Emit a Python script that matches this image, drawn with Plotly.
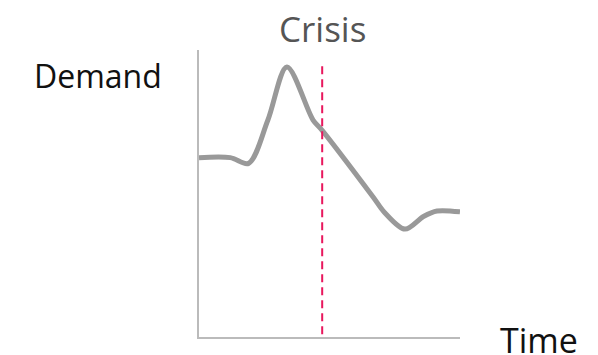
import plotly.graph_objects as go

# Data (arbitrary units)
time_vals = [0.0, 1.2, 1.9, 2.64, 3.37, 4.37, 4.71, 6.67, 7.1, 7.89, 8.6, 9.12, 10.0]
demand_vals = [6.25, 6.25, 6.05, 7.56, 9.41, 7.56, 7.21, 4.88, 4.35, 3.76, 4.2, 4.39, 4.36]
crisis_time = 4.72
crisis_span = [0.1, 9.5]

fig = go.Figure()
fig.add_trace(go.Scatter(
    x=time_vals, y=demand_vals, mode="lines",
    line=dict(color="#999999", width=5, shape="spline", smoothing=0.9),
    hoverinfo="skip",
))
fig.add_trace(go.Scatter(
    x=[crisis_time, crisis_time], y=crisis_span, mode="lines",
    line=dict(color="#e8175d", width=2, dash="8px,5px"),
    hoverinfo="skip",
))

font = "Open Sans, sans-serif"
# plot area in figure pixels: x 191..452, y 42..329 (page has an 8px body margin)
W, H = 590, 347
L, R, T, B = 191, 138, 42, 18
pw, ph = W - L - R, H - T - B


def px(fx):
    return (fx - L) / pw


def py(fy):
    return (H - B - fy) / ph


fig.update_layout(
    width=W, height=H,
    margin=dict(l=L, r=R, t=T, b=B),
    paper_bgcolor="white", plot_bgcolor="white",
    showlegend=False,
    xaxis=dict(range=[0, 10], showgrid=False, zeroline=False, showticklabels=False,
               ticks="", showline=True, linecolor="#bbbbbb", linewidth=2),
    yaxis=dict(range=[0, 10], showgrid=False, zeroline=False, showticklabels=False,
               ticks="", showline=True, linecolor="#bbbbbb", linewidth=2),
    annotations=[
        dict(text="Crisis", x=crisis_time, xref="x", y=py(21), yref="paper",
             yanchor="middle", xanchor="center", showarrow=False,
             font=dict(family=font, size=35, color="#555555")),
        dict(text="Demand", x=px(89.5), xref="paper", y=py(67.5), yref="paper",
             xanchor="center", yanchor="middle", showarrow=False,
             font=dict(family=font, size=32, color="#111111")),
        dict(text="Time", x=px(530.5), xref="paper", y=py(332), yref="paper",
             xanchor="center", yanchor="middle", showarrow=False,
             font=dict(family=font, size=34, color="#111111")),
    ],
)
fig.write_html("out.html")
